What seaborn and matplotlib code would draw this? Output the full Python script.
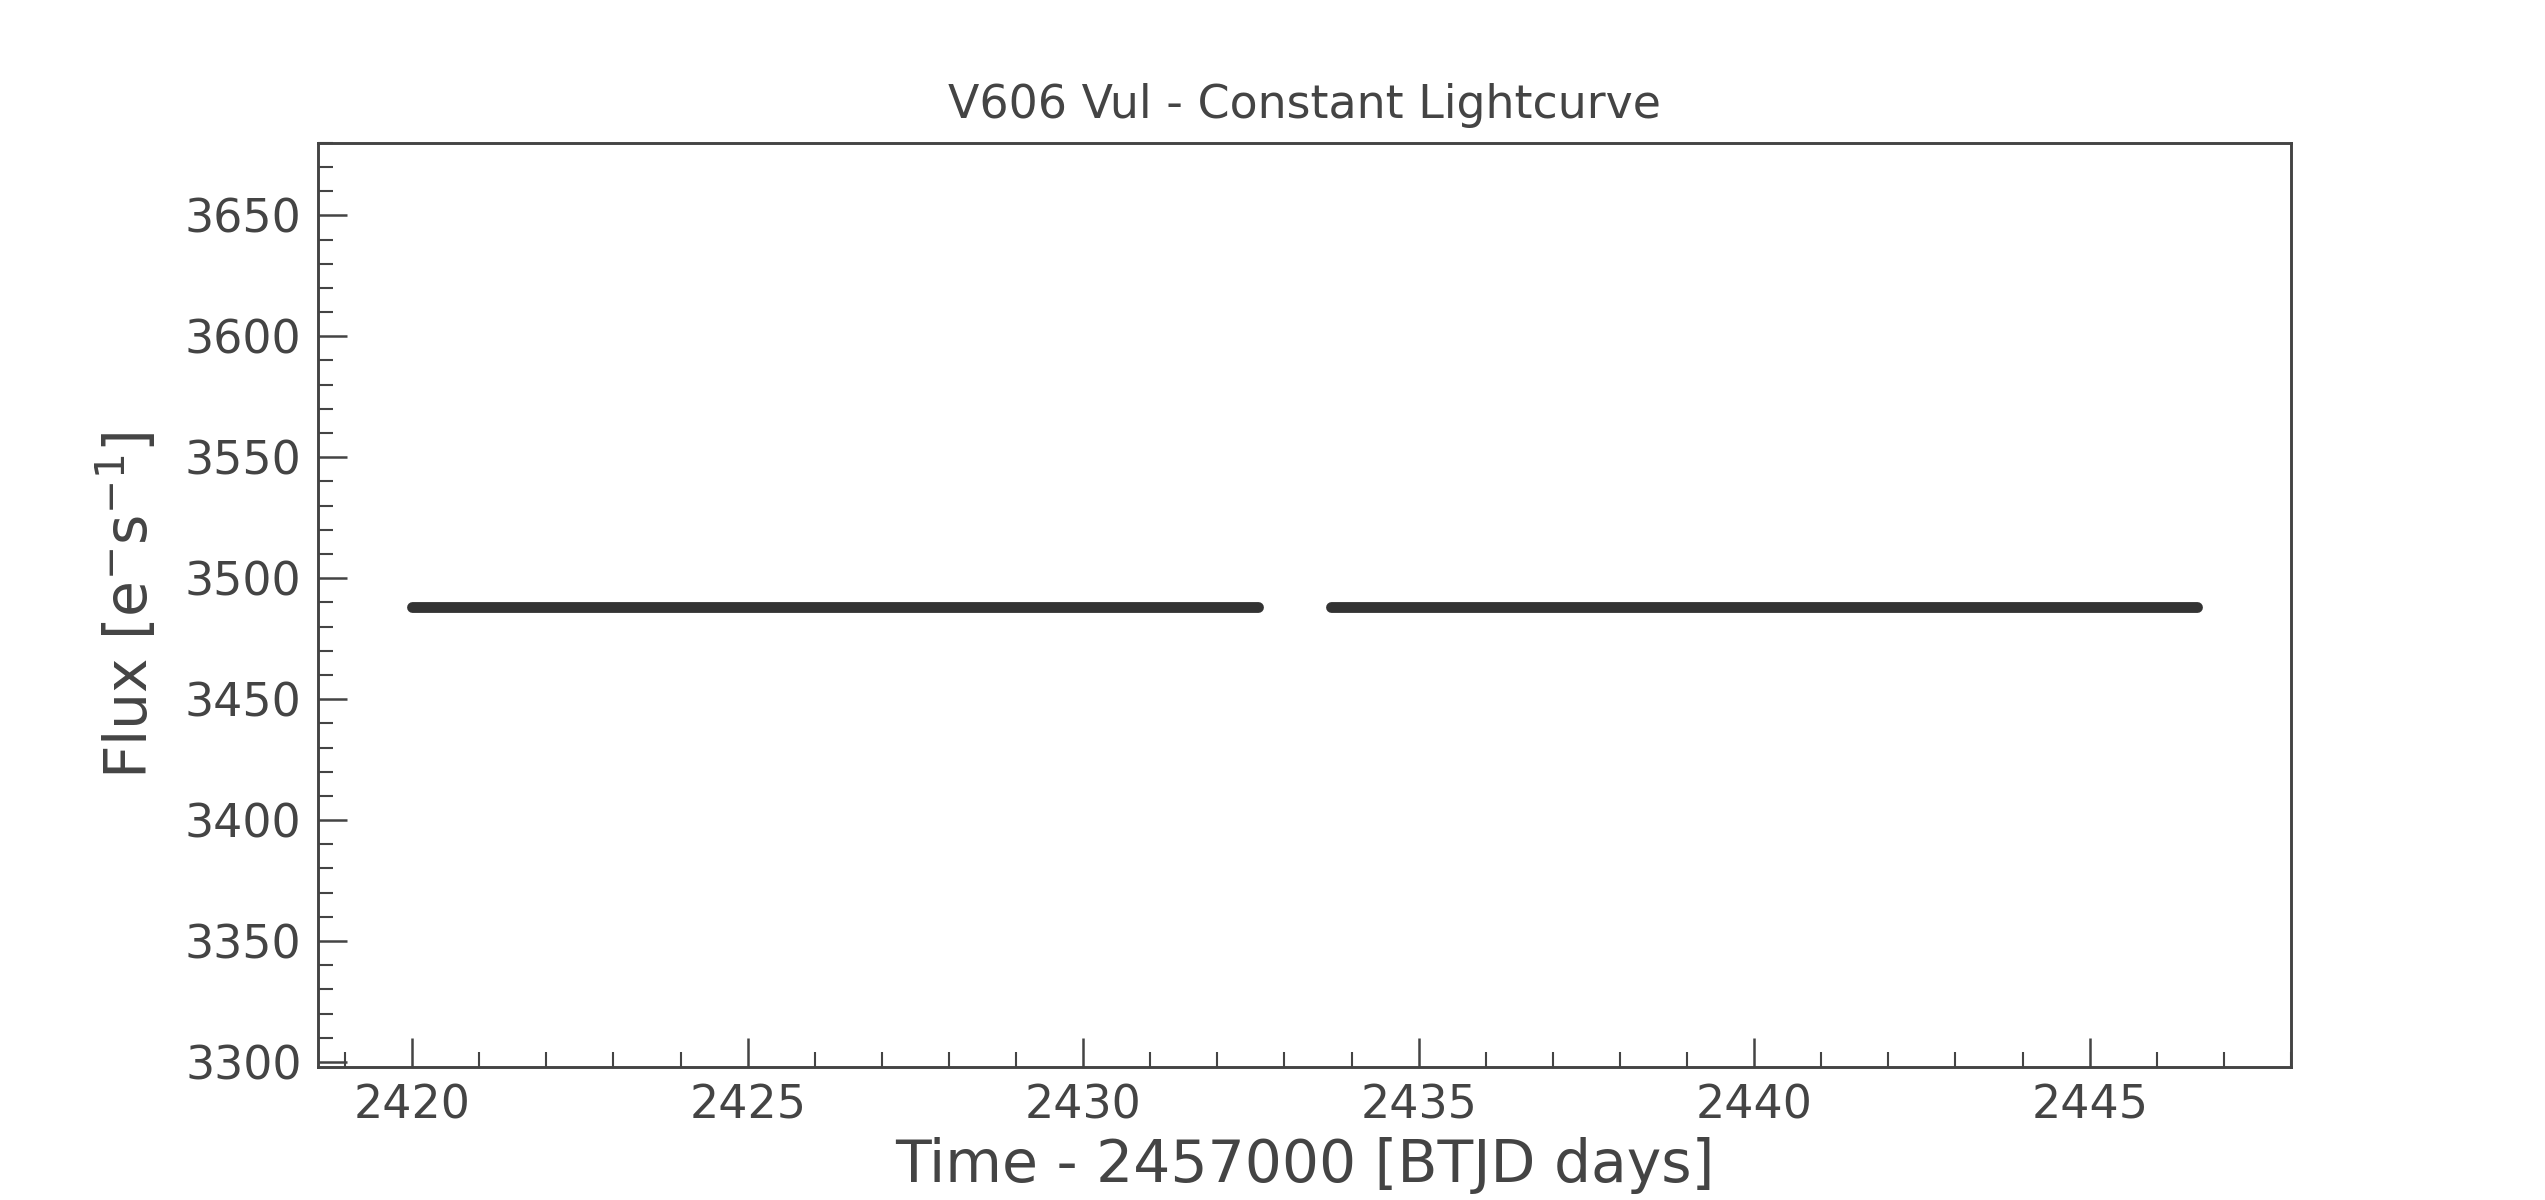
import matplotlib
matplotlib.use("Agg")
import matplotlib.pyplot as plt
from matplotlib.ticker import MultipleLocator
import pandas as pd
import seaborn as sns

# segment edges of the two orbits (BTJD) and the constant flux level
segment = ["orbit 1", "orbit 1", "orbit 2", "orbit 2"]
time = [2420.0, 2432.6, 2433.7, 2446.6]
flux = [3488.0, 3488.0, 3488.0, 3488.0]

df = pd.DataFrame({"segment": segment, "time": time, "flux": flux})

sns.set_style("white")
plt.rcParams["font.family"] = ["DejaVu Sans"]
grey = "#444444"
plt.rcParams.update({"text.color": grey, "axes.labelcolor": grey,
                     "xtick.color": grey, "ytick.color": grey,
                     "axes.edgecolor": grey})

fig, ax = plt.subplots(figsize=(8.485, 4), dpi=300)
fig.subplots_adjust(left=0.125, right=0.9, top=0.881, bottom=0.111)
sns.lineplot(data=df, x="time", y="flux", units="segment", estimator=None,
             color="#333333", linewidth=2.6, ax=ax,
             solid_capstyle="round")

ax.set_xlim(2418.6, 2448.0)
ax.set_ylim(3298, 3680)
ax.xaxis.set_major_locator(MultipleLocator(5))
ax.xaxis.set_minor_locator(MultipleLocator(1))
ax.yaxis.set_major_locator(MultipleLocator(50))
ax.yaxis.set_minor_locator(MultipleLocator(10))
ax.tick_params(which="both", bottom=True, left=True, top=False, right=False)
ax.tick_params(which="major", direction="in", length=7, width=0.6,
               labelsize=11, pad=4)
ax.tick_params(which="minor", direction="in", length=3.5, width=0.5)
for s in ax.spines.values():
    s.set_linewidth(0.7)

ax.set_title("V606 Vul - Constant Lightcurve", fontsize=11, pad=6)
ax.set_xlabel("Time - 2457000 [BTJD days]", fontsize=14, labelpad=2)
ax.set_ylabel("Flux [e$^{-}$s$^{-1}$]", fontsize=14, labelpad=6)

fig.savefig("out.png", dpi=300)
